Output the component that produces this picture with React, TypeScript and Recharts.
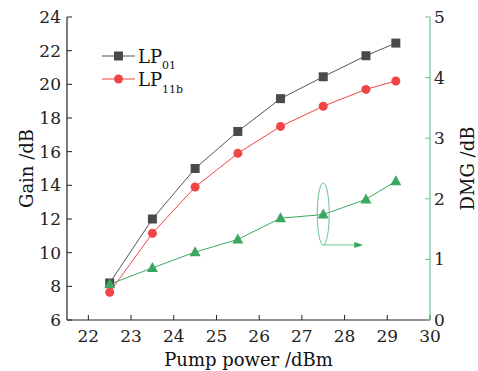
import { ComposedChart, Line, XAxis, YAxis, ReferenceDot } from "recharts"

const pumpPower = [22.5, 23.5, 24.5, 25.5, 26.5, 27.5, 28.5, 29.2]
const gainLP01 = [8.2, 12.0, 15.0, 17.2, 19.15, 20.45, 21.7, 22.45]
const gainLP11b = [7.65, 11.15, 13.9, 15.9, 17.5, 18.7, 19.7, 20.2]
const dmg = [0.59, 0.86, 1.12, 1.33, 1.68, 1.74, 1.99, 2.29]

const xTicks = [22, 23, 24, 25, 26, 27, 28, 29, 30]
const gainTicks = [6, 8, 10, 12, 14, 16, 18, 20, 22, 24]
const dmgTicks = [0, 1, 2, 3, 4, 5]

const data = pumpPower.map((p, i) => ({
  p,
  lp01: gainLP01[i],
  lp11b: gainLP11b[i],
  dmg: dmg[i],
}))

const FONT = "'DejaVu Serif', serif"
const GRAY = "#555555"
const RED = "#f04545"
const GREEN = "#3aa860"
const GREEN_AXIS = "#6cc48f"

const Square = (props: any) => {
  const { cx, cy, index } = props
  return <rect key={"s" + index} x={cx - 4.5} y={cy - 4.5} width={9} height={9} fill="#4a4a4a" />
}

const Triangle = (props: any) => {
  const { cx, cy, index } = props
  return (
    <polygon
      key={"t" + index}
      points={`${cx},${cy - 6} ${cx - 5.5},${cy + 4} ${cx + 5.5},${cy + 4}`}
      fill={GREEN}
    />
  )
}

const Annotation = (props: any) => {
  const { cx, cy } = props
  const bottom = cy + 31
  return (
    <g>
      <ellipse cx={cx} cy={cy} rx={6} ry={31} fill="none" stroke={GREEN_AXIS} strokeWidth={1} />
      <line x1={cx} y1={bottom} x2={cx + 32} y2={bottom} stroke={GREEN_AXIS} strokeWidth={1} />
      <polygon points={`${cx + 40},${bottom} ${cx + 31},${bottom - 3} ${cx + 31},${bottom + 3}`} fill={GREEN} />
    </g>
  )
}

// legend drawn over the plot, top-left
const LegendBox = () => (
  <svg width={110} height={56} style={{ position: "absolute", left: 95, top: 43 }}>
    <line x1={7} y1={13} x2={40} y2={13} stroke={GRAY} strokeWidth={1} />
    <rect x={19} y={8.5} width={9} height={9} fill="#4a4a4a" />
    <text x={43} y={20} fontFamily={FONT} fontSize={18} fill="#111">
      LP
      <tspan fontSize={11} dy={6}>01</tspan>
    </text>
    <line x1={7} y1={36} x2={40} y2={36} stroke={RED} strokeWidth={1} />
    <circle cx={23.5} cy={36} r={4.5} fill={RED} />
    <text x={43} y={43} fontFamily={FONT} fontSize={18} fill="#111">
      LP
      <tspan fontSize={11} dy={7}>11b</tspan>
    </text>
  </svg>
)

export default function App() {
  return (
    <div style={{ position: "absolute", left: 0, top: 0, width: 478, height: 371, background: "#fff" }}>
      <ComposedChart
        width={478}
        height={371}
        data={data}
        margin={{ top: 17, right: 8, left: 27, bottom: 21 }}
      >
        <XAxis
          xAxisId="top"
          orientation="top"
          dataKey="p"
          type="number"
          domain={[21.5, 30]}
          tick={false}
          tickLine={false}
          height={0}
          axisLine={{ stroke: "#222", strokeWidth: 1.2 }}
        />
        <XAxis
          dataKey="p"
          type="number"
          domain={[21.5, 30]}
          ticks={xTicks}
          height={30}
          tickSize={-5}
          tickMargin={15}
          axisLine={{ stroke: "#222", strokeWidth: 1.2 }}
          tickLine={{ stroke: "#222" }}
          tick={{ fontFamily: FONT, fontSize: 17, fill: "#222" }}
          label={{
            value: "Pump power /dBm",
            position: "insideBottom",
            offset: -16,
            fontFamily: FONT,
            fontSize: 18,
            fill: "#111",
          }}
        />
        <YAxis
          yAxisId="left"
          domain={[6, 24]}
          ticks={gainTicks}
          width={40}
          tickSize={-5}
          tickMargin={11}
          axisLine={{ stroke: "#222", strokeWidth: 1.2 }}
          tickLine={{ stroke: "#222" }}
          tick={{ fontFamily: FONT, fontSize: 17, fill: "#222" }}
          label={{
            value: "Gain /dB",
            angle: -90,
            position: "insideLeft",
            offset: 0,
            style: { textAnchor: "middle" },
            fontFamily: FONT,
            fontSize: 18,
            fill: "#111",
          }}
        />
        <YAxis
          yAxisId="right"
          orientation="right"
          domain={[0, 5]}
          ticks={dmgTicks}
          width={40}
          tickSize={-5}
          tickMargin={9}
          axisLine={{ stroke: GREEN_AXIS, strokeWidth: 1.2 }}
          tickLine={{ stroke: GREEN_AXIS }}
          tick={{ fontFamily: FONT, fontSize: 17, fill: "#222" }}
          label={{
            value: "DMG /dB",
            angle: -90,
            position: "insideRight",
            offset: 2,
            style: { textAnchor: "middle" },
            fontFamily: FONT,
            fontSize: 18,
            fill: "#111",
          }}
        />
        <Line
          yAxisId="left"
          dataKey="lp01"
          stroke={GRAY}
          strokeWidth={1}
          dot={Square}
          activeDot={false}
          isAnimationActive={false}
        />
        <Line
          yAxisId="left"
          dataKey="lp11b"
          stroke={RED}
          strokeWidth={1}
          dot={{ r: 4.5, fill: RED, stroke: "none" }}
          activeDot={false}
          isAnimationActive={false}
        />
        <Line
          yAxisId="right"
          dataKey="dmg"
          stroke={GREEN}
          strokeWidth={1}
          dot={Triangle}
          activeDot={false}
          isAnimationActive={false}
        />
        <ReferenceDot yAxisId="right" x={27.5} y={1.75} r={0} shape={Annotation} ifOverflow="visible" />
      </ComposedChart>
      <LegendBox />
    </div>
  )
}
